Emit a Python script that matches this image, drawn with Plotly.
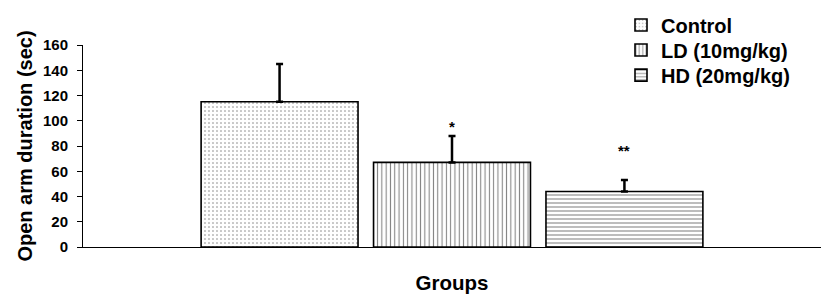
import plotly.graph_objects as go

groups = ["Control", "LD (10mg/kg)", "HD (20mg/kg)"]
means = [115, 67, 44]
errors = [30, 21, 9]
sig_labels = ["", "*", "**"]
y_ticks = [0, 20, 40, 60, 80, 100, 120, 140, 160]

patterns = [
    dict(shape=".", size=4, solidity=0.12),
    dict(shape="|", size=4.3, solidity=0.24),
    dict(shape="-", size=4, solidity=0.26),
]

FONT = "Liberation Sans, Arial, sans-serif"
legend_names = ["legend", "legend2", "legend3"]
legend_y = [1.099, 0.975, 0.851]

fig = go.Figure()
for i, g in enumerate(groups):
    p = patterns[i]
    fig.add_trace(go.Bar(
        x=[i], y=[means[i]], name=g, width=0.91, legend=legend_names[i],
        marker=dict(
            color="white",
            line=dict(color="black", width=1.6),
            pattern=dict(shape=p["shape"], size=p["size"], solidity=p["solidity"],
                         fgcolor="black", bgcolor="white", fillmode="overlay"),
        ),
        error_y=dict(type="data", symmetric=False, array=[errors[i]], arrayminus=[0],
                     color="black", thickness=2.5, width=3.5),
    ))

shifts = [0, -1, 19]
for i, s in enumerate(sig_labels):
    if s:
        fig.add_annotation(x=i, y=means[i] + errors[i], text=s, showarrow=False,
                           yanchor="bottom", yshift=shifts[i],
                           font=dict(family=FONT, size=15, color="black", weight="bold"))

legend_style = dict(x=0.729, xanchor="left", yanchor="middle",
                    font=dict(family=FONT, size=20, color="black", weight="bold"),
                    bgcolor="rgba(0,0,0,0)", itemwidth=30)

fig.update_layout(
    width=828, height=300,
    margin=dict(l=83, r=7, t=45, b=53, autoexpand=False),
    plot_bgcolor="white", paper_bgcolor="white",
    barmode="overlay",
    showlegend=True,
    legend=dict(y=legend_y[0], **legend_style),
    legend2=dict(y=legend_y[1], **legend_style),
    legend3=dict(y=legend_y[2], **legend_style),
    font=dict(family=FONT, color="black"),
)
fig.update_xaxes(range=[-1.14, 3.14], showline=True, linecolor="black", linewidth=1,
                 showticklabels=False, ticks="", showgrid=False, zeroline=False,
                 automargin=False,
                 title=dict(text="Groups", standoff=28,
                            font=dict(family=FONT, size=20.5, color="black", weight="bold")))
fig.update_yaxes(range=[0, 160], tickvals=y_ticks, showline=True, linecolor="black",
                 linewidth=1, ticks="outside", ticklen=5, tickcolor="black",
                 showgrid=False, zeroline=False, ticklabelstandoff=6, automargin=False,
                 tickfont=dict(family=FONT, size=15, color="black", weight="bold"),
                 title=dict(text="Open arm duration (sec)", standoff=4,
                            font=dict(family=FONT, size=20, color="black", weight="bold")))

fig.write_html("out.html", config={"displayModeBar": False},
               post_script="document.body.style.margin='0';")
